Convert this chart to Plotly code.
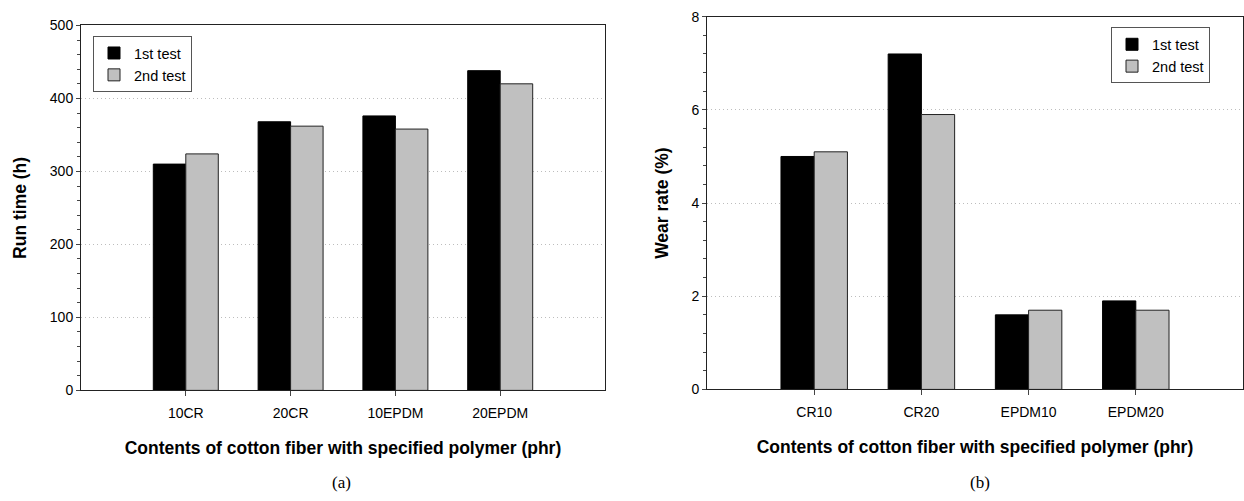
import plotly.graph_objects as go

# ---- data ----
cats_a = ["10CR", "20CR", "10EPDM", "20EPDM"]
run_1st = [310, 368, 376, 438]
run_2nd = [324, 362, 358, 420]

cats_b = ["CR10", "CR20", "EPDM10", "EPDM20"]
wear_1st = [5.0, 7.2, 1.6, 1.9]
wear_2nd = [5.1, 5.9, 1.7, 1.7]

series_names = ["1st test", "2nd test"]
x_title = "Contents of cotton fiber with specified polymer (phr)"

W, H = 1244, 501
FONT = "Liberation Sans, Arial, sans-serif"
SERIF = "Liberation Serif, Times New Roman, serif"
BLACK = "#000000"
GRAY = "#c0c0c0"

def px_x(p):
    return p / W

def px_y(p):
    return 1 - p / H

fig = go.Figure()

fig.add_trace(go.Bar(x=cats_a, y=run_1st, name=series_names[0], xaxis="x", yaxis="y",
                     marker=dict(color=BLACK, line=dict(color=BLACK, width=1)), legend="legend"))
fig.add_trace(go.Bar(x=cats_a, y=run_2nd, name=series_names[1], xaxis="x", yaxis="y",
                     marker=dict(color=GRAY, line=dict(color="#222222", width=1)), legend="legend"))
fig.add_trace(go.Bar(x=cats_b, y=wear_1st, name=series_names[0], xaxis="x2", yaxis="y2",
                     marker=dict(color=BLACK, line=dict(color=BLACK, width=1)), legend="legend2"))
fig.add_trace(go.Bar(x=cats_b, y=wear_2nd, name=series_names[1], xaxis="x2", yaxis="y2",
                     marker=dict(color=GRAY, line=dict(color="#222222", width=1)), legend="legend2"))

tickfont = dict(family=FONT, size=14, color="#000000")
titlefont = dict(family=FONT, size=17.5, color="#000000", weight="bold")

common_x = dict(type="category", range=[-1, 4], showline=True, linecolor="#222222", linewidth=1,
                mirror=True, ticks="outside", ticklen=5, tickcolor="#444444", tickfont=tickfont,
                ticklabelstandoff=5, showgrid=False, zeroline=False, fixedrange=True)
common_y = dict(showline=True, linecolor="#222222", linewidth=1, mirror=True, ticks="outside",
                ticklen=4, tickcolor="#444444", tickfont=tickfont, showgrid=True,
                gridcolor="#bdbdbd", griddash="1px,3px", gridwidth=1, zeroline=False)

legend_common = dict(xanchor="left", yanchor="top", bordercolor="#555555", borderwidth=1,
                     bgcolor="white", font=dict(family=FONT, size=14.5, color="#000000"),
                     traceorder="normal", entrywidth=72, tracegroupgap=0)

fig.update_layout(
    width=W, height=H,
    margin=dict(l=0, r=0, t=0, b=0),
    paper_bgcolor="white", plot_bgcolor="white",
    barmode="group", bargap=0.38, bargroupgap=0,
    font=dict(family=FONT, color="#000000"),
    xaxis=dict(common_x, domain=[px_x(81), px_x(605)], anchor="y",
               title=dict(text=x_title, font=titlefont, standoff=21)),
    yaxis=dict(common_y, domain=[px_y(395), px_y(18)], anchor="x", range=[0, 500], dtick=100,
               minor=dict(ticks="outside", dtick=20, ticklen=3, tickcolor="#444444", showgrid=False),
               title=dict(text="Run time (h)", font=titlefont, standoff=18)),
    xaxis2=dict(common_x, domain=[px_x(707), px_x(1243)], anchor="y2",
                title=dict(text=x_title, font=titlefont, standoff=21)),
    yaxis2=dict(common_y, domain=[px_y(394), px_y(9)], anchor="x2", range=[0, 8], dtick=2,
                minor=dict(ticks="outside", dtick=0.4, ticklen=3, tickcolor="#444444", showgrid=False),
                title=dict(text="Wear rate (%)", font=titlefont, standoff=18)),
    legend=dict(legend_common, x=px_x(93), y=px_y(29)),
    legend2=dict(legend_common, x=px_x(1111), y=px_y(20)),
    annotations=[
        dict(text="(a)", x=px_x(341), y=px_y(490), xref="paper", yref="paper",
             xanchor="center", yanchor="middle",
             showarrow=False, font=dict(family=SERIF, size=17, color="#000000")),
        dict(text="(b)", x=px_x(980), y=px_y(490), xref="paper", yref="paper",
             xanchor="center", yanchor="middle",
             showarrow=False, font=dict(family=SERIF, size=17, color="#000000")),
    ],
)

fig.write_html("out.html")
